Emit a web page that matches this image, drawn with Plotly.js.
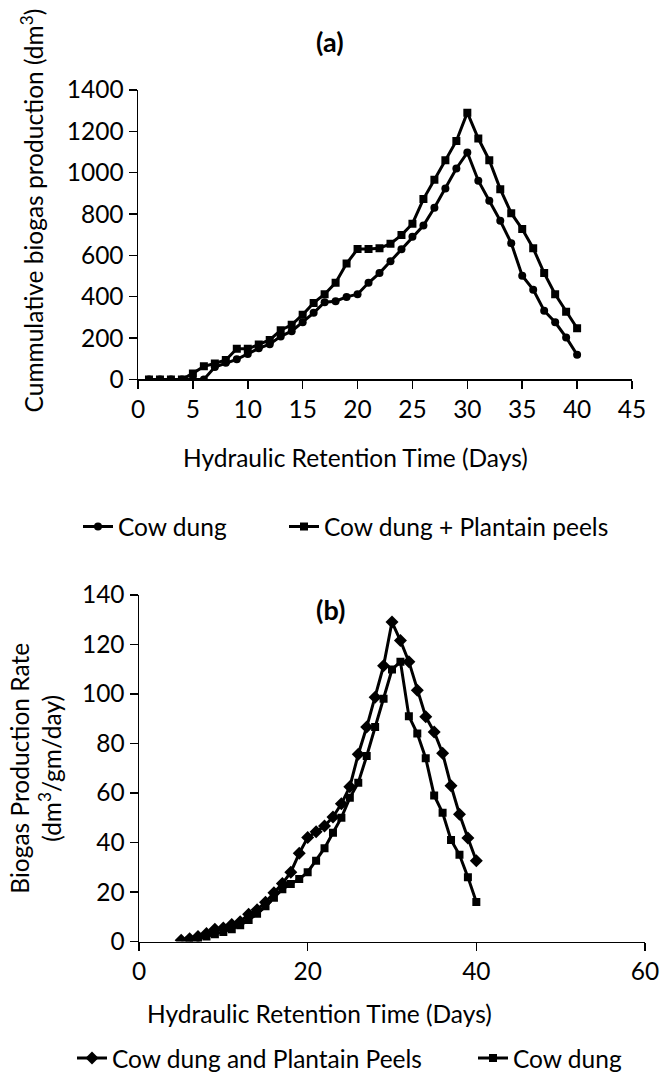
<!DOCTYPE html>
<html>
<head>
<meta charset="utf-8">
<script src="https://cdn.plot.ly/plotly-3.0.1.min.js"></script>
<style>html,body{margin:0;padding:0;background:#fff;}#chart{width:672px;height:1081px;}</style>
</head>
<body>
<div id="chart"></div>
<script>
// Panel (a): cumulative biogas production
const daysA = [1,2,3,4,5,6,7,8,9,10,11,12,13,14,15,16,17,18,19,20,21,22,23,24,25,26,27,28,29,30,31,32,33,34,35,36,37,38,39,40];
const cowDungA = [0,0,0,0,0,0,60,80,97,123,150,170,208,233,276,322,373,378,399,412,467,514,571,629,690,744,830,923,1020,1097,961,864,767,659,501,434,332,276,203,119];
const cowPlantainA = [0,0,0,0,29,63,77,94,148,148,169,191,238,264,313,370,412,467,560,630,630,634,656,698,753,872,966,1060,1153,1290,1165,1060,920,804,727,634,514,412,327,247];

// Panel (b): biogas production rate
const daysB1 = [5,6,7,8,9,10,11,12,13,14,15,16,17,18,19,20,21,22,23,24,25,26,27,28,29,30,31,32,33,34,35,36,37,38,39,40];
const cowPlantainB = [0.5,1.1,2,3.2,5,5.5,6.9,8,11,12.8,15.9,19.7,23.4,28,35.6,42,44.3,46.6,50.3,55.6,62.5,75.6,86.6,98.6,111.3,129,121.5,113,101.4,90.8,84.6,76,62.9,51.4,41.8,32.6];
const daysB2 = [6,7,8,9,10,11,12,13,14,15,16,17,18,19,20,21,22,23,24,25,26,27,28,29,30,31,32,33,34,35,36,37,38,39,40];
const cowDungB = [0.5,1,2,2.9,3.9,5,6.6,8.7,11.2,14.2,17.7,21.1,23.2,25.2,28,32.6,37.7,43.9,50,58,64.1,74.9,86.6,98,109.8,113,91,84,74,59,52,41,35,26,16];

const seriesNames = ['Cow dung', 'Cow dung + Plantain peels', 'Cow dung and Plantain Peels', 'Cow dung'];
const ticksA_x = [0,5,10,15,20,25,30,35,40,45];
const ticksA_y = [0,200,400,600,800,1000,1200,1400];
const ticksB_x = [0,20,40,60];
const ticksB_y = [0,20,40,60,80,100,120,140];

const W = 672, H = 1081;
const FS = 24.5;
const FONT = 'Lato, "Open Sans", sans-serif';
const px = v => v / W;
const py = v => 1 - v / H;

const lineStyle = {color: '#000', width: 3};
const traces = [
  {x: daysA, y: cowDungA, name: seriesNames[0], type: 'scatter', mode: 'lines+markers',
   line: lineStyle, marker: {symbol: 'circle', size: 8, color: '#000'}, xaxis: 'x', yaxis: 'y', legend: 'legend'},
  {x: daysA, y: cowPlantainA, name: seriesNames[1], type: 'scatter', mode: 'lines+markers',
   line: lineStyle, marker: {symbol: 'square', size: 8, color: '#000'}, xaxis: 'x', yaxis: 'y', legend: 'legend2'},
  {x: daysB1, y: cowPlantainB, name: seriesNames[2], type: 'scatter', mode: 'lines+markers',
   line: lineStyle, marker: {symbol: 'diamond', size: 10, color: '#000'}, xaxis: 'x2', yaxis: 'y2', legend: 'legend3'},
  {x: daysB2, y: cowDungB, name: seriesNames[3], type: 'scatter', mode: 'lines+markers',
   line: lineStyle, marker: {symbol: 'square', size: 8, color: '#000'}, xaxis: 'x2', yaxis: 'y2', legend: 'legend4'}
];

const axisCommon = {
  showgrid: false, zeroline: false, showline: true, linecolor: '#000', linewidth: 1.5,
  ticks: 'outside', ticklen: 8, tickwidth: 1.5, tickcolor: '#000',
  tickfont: {family: FONT, size: FS, color: '#000'}, fixedrange: true
};

function leg(xText, yCenter) {
  return {orientation: 'h', x: px(xText - 40), y: py(yCenter), xanchor: 'left', yanchor: 'middle',
          font: {family: FONT, size: FS, color: '#000'}, bgcolor: 'rgba(0,0,0,0)'};
}

const layout = {
  width: W, height: H,
  margin: {l: 0, r: 0, t: 0, b: 0},
  paper_bgcolor: '#fff', plot_bgcolor: '#fff',
  font: {family: FONT, size: FS, color: '#000'},
  xaxis: Object.assign({}, axisCommon, {domain: [px(138), px(632)], range: [0, 45], tickvals: ticksA_x, anchor: 'y'}),
  yaxis: Object.assign({}, axisCommon, {domain: [py(384), py(91)], range: [0, 1400], tickvals: ticksA_y, anchor: 'x'}),
  xaxis2: Object.assign({}, axisCommon, {domain: [px(139), px(645)], range: [0, 60], tickvals: ticksB_x, anchor: 'y2'}),
  yaxis2: Object.assign({}, axisCommon, {domain: [py(953), py(602)], range: [0, 140], tickvals: ticksB_y, anchor: 'x2'}),
  legend: leg(118, 533),
  legend2: leg(324, 533),
  legend3: leg(112, 1071),
  legend4: leg(513, 1071),
  annotations: [
    {text: '<b>(a)</b>', x: px(330), y: py(42), xref: 'paper', yref: 'paper', showarrow: false,
     xanchor: 'center', yanchor: 'middle', font: {family: FONT, size: 27, color: '#000'}},
    {text: '<b>(b)</b>', x: px(330), y: py(617), xref: 'paper', yref: 'paper', showarrow: false,
     xanchor: 'center', yanchor: 'middle', font: {family: FONT, size: 27, color: '#000'}},
    {text: 'Hydraulic Retention Time (Days)', x: px(355), y: py(463), xref: 'paper', yref: 'paper', showarrow: false,
     xanchor: 'center', yanchor: 'middle', font: {family: FONT, size: FS, color: '#000'}},
    {text: 'Hydraulic Retention Time (Days)', x: px(319), y: py(1026), xref: 'paper', yref: 'paper', showarrow: false,
     xanchor: 'center', yanchor: 'middle', font: {family: FONT, size: FS, color: '#000'}},
    {text: 'Cummulative biogas production (dm<sup>3</sup>)', x: px(32), y: py(213), xref: 'paper', yref: 'paper', showarrow: false,
     textangle: -90, xanchor: 'center', yanchor: 'middle', font: {family: FONT, size: FS, color: '#000'}},
    {text: 'Biogas Production Rate<br>(dm<sup>3</sup>/gm/day)', x: px(36), y: py(778), xref: 'paper', yref: 'paper', showarrow: false,
     textangle: -90, xanchor: 'center', yanchor: 'middle', font: {family: FONT, size: FS, color: '#000'}}
  ],
  showlegend: true
};

Plotly.newPlot('chart', traces, layout, {displayModeBar: false, staticPlot: true});
</script>
</body>
</html>
